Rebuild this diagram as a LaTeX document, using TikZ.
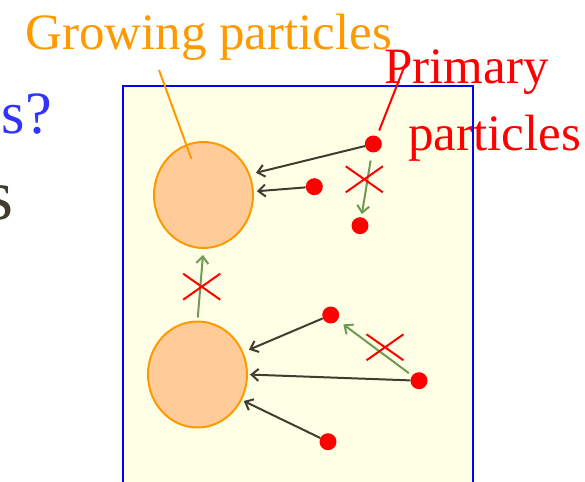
\documentclass[tikz,border=0pt]{standalone}
\usepackage{fontspec}
\setmainfont{Liberation Serif}
\newfontfamily\slidefont{Liberation Serif}
\usetikzlibrary{arrows.meta,positioning,shapes.geometric,shapes.misc}
\definecolor{paper}{HTML}{FFFFE6}
\definecolor{frame}{HTML}{0000FF}
\definecolor{amber}{HTML}{FF9900}
\definecolor{peach}{HTML}{FFCC99}
\definecolor{ink}{HTML}{403C30}
\definecolor{moss}{HTML}{6E9A55}
\definecolor{slideblue}{HTML}{3333FF}
\tikzset{
 grain/.style={ellipse,draw=amber,line width=2pt,fill=peach,minimum width=99pt,minimum height=106pt,inner sep=0pt},
 dot/.style={circle,fill=red,minimum size=17pt,inner sep=0pt},
 flow/.style={-{Straight Barb[length=7pt,width=12pt]},line width=2pt,draw=ink,shorten >=3pt},
 blocked/.style={-{Straight Barb[length=7pt,width=12pt]},line width=2pt,draw=moss},
 xmark/.style={cross out,draw=red,line width=2pt,minimum width=35pt,minimum height=24pt,inner sep=0pt},
 lbl/.style={font=\slidefont\fontsize{51}{60}\selectfont,inner sep=0pt,anchor=base west}
}

\begin{document}
\begin{tikzpicture}[x=1pt,y=-1pt]
\useasboundingbox (0,0) rectangle (585,481);
% what is left of the slide
\node[lbl,anchor=base east,text=slideblue,font=\slidefont\fontsize{60}{70}\selectfont] (title) at (52,134) {s?};
\node[lbl,anchor=base east,text=ink,font=\slidefont\fontsize{72}{80}\selectfont] (body) at (14,219) {s};
\fill[paper] (123,86) rectangle (473,500);
\node[lbl,text=amber] (growing) at (25,50) {Growing particles};
\node[lbl,text=red] (primary) at (384,84) {Primary};
\node[lbl,text=red] (parts) at (408,150) {particles};
\draw[frame,line width=2pt] (123,86) rectangle (473,500);
% growing particles
\node[grain] (top) at (203.5,195) {};
\node[grain] (bot) at (197.5,374.5) {};
% primary particles
\node[dot] (p1) at (373.3,144) {};
\node[dot] (p2) at (314.3,186.7) {};
\node[dot] (p3) at (360,225.7) {};
\node[dot] (p4) at (330.7,315) {};
\node[dot] (p5) at (419,380.7) {};
\node[dot] (p6) at (328,441.7) {};
\draw[flow,shorten >=6pt] (p1) -- (top.24);
\draw[flow] (p2) -- (top.4);
\draw[flow,shorten >=6pt] (p4) -- (bot.26);
\draw[flow,shorten >=2pt] (p5) -- (bot.0);
\draw[flow,shorten >=2pt] (p6) -- (bot.-30);
% forbidden paths
\draw[blocked,shorten <=8pt,shorten >=3pt] (p1) -- (p3);
\draw[blocked,shorten <=3pt,shorten >=6pt] (bot.north) -- (top.south);
\draw[blocked,shorten <=4pt,shorten >=7pt] (p5) -- (p4);
\node[xmark] (x1) at (364.3,179.3) {};
\node[xmark] (x2) at (201.7,286.7) {};
\node[xmark] (x3) at (385,347.3) {};
% leaders
\draw[amber,line width=2pt] ([xshift=134pt,yshift=-20pt]growing.base west) -- ([shift={(-12pt,36pt)}]top.center);
\draw[red,line width=2pt,shorten >=6pt] ([xshift=21pt,yshift=19pt]primary.base west) -- (p1.65);
\end{tikzpicture}
\end{document}
